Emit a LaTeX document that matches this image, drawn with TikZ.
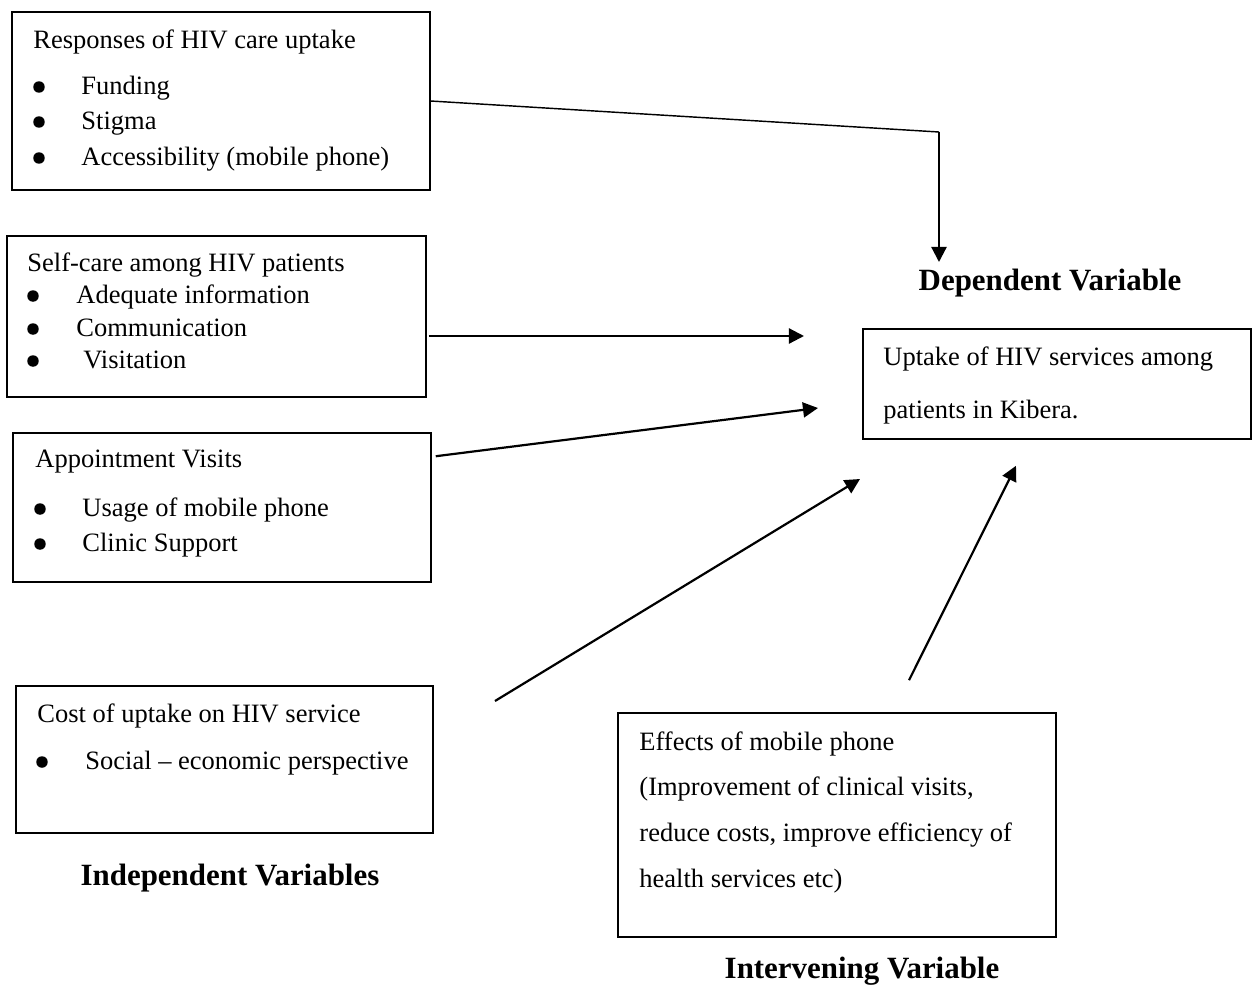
\documentclass[tikz,border=0pt]{standalone}
\usepackage{fontspec}
\setmainfont{Liberation Serif}
\usetikzlibrary{arrows.meta,calc}
\begin{document}
\begin{tikzpicture}[x=0.4528pt, y=-0.4528pt,
    box/.style 2 args={draw, line width=0.7pt, inner sep=0pt,
        minimum width=#1*0.4528pt, minimum height=#2*0.4528pt},
    txt/.style={anchor=base west, inner sep=0pt, font=\fontsize{12}{14}\selectfont},
    bul/.style={circle, fill, inner sep=0pt, minimum size=5.2pt},
    lbl/.style={anchor=base, inner sep=0pt, font=\fontsize{14}{17}\selectfont\bfseries},
    arr/.style={line width=1pt, -{Triangle[length=6.8pt, width=6.8pt]}}]
  \useasboundingbox (0,0) rectangle (1254,986);

  % Boxes
  \node[box={418}{178}] (resp) at (221,101) {};
  \node[box={419}{161}] (self) at (216.5,316.5) {};
  \node[box={418}{149}] (appt) at (222,507.5) {};
  \node[box={417}{147}] (cost) at (224.5,759.5) {};
  \node[box={438}{224}] (effect) at (837,825) {};
  \node[box={388}{110}] (uptake) at (1057,384) {};

  % Independent variables
  \node[txt] (resp-title) at (33,48) {Responses of HIV care uptake};
  \foreach \yb/\item [count=\i] in {94/Funding, 129/Stigma, 165/Accessibility (mobile phone)} {
    \node[bul] (resp-b\i) at (39,\yb-7) {};
    \node[txt] (resp-t\i) at (81,\yb) {\item};
  }

  \node[txt] (self-title) at (27,271) {Self-care among HIV patients};
  \foreach \xb/\yb/\item [count=\i] in {76/303/Adequate information, 76/336/Communication, 83/368/Visitation} {
    \node[bul] (self-b\i) at (33,\yb-7) {};
    \node[txt] (self-t\i) at (\xb,\yb) {\item};
  }

  \node[txt] (appt-title) at (35,467) {Appointment Visits};
  \foreach \yb/\item [count=\i] in {516/Usage of mobile phone, 551/Clinic Support} {
    \node[bul] (appt-b\i) at (40,\yb-7) {};
    \node[txt] (appt-t\i) at (82,\yb) {\item};
  }

  \node[txt] (cost-title) at (37,722) {Cost of uptake on HIV service};
  \node[bul] (cost-b1) at (42,762) {};
  \node[txt] (cost-t1) at (85,769) {Social -- economic perspective};

  % Intervening variable
  \foreach \yb/\item [count=\i] in {750/Effects of mobile phone, 795/{(Improvement of clinical visits,}, 841/{reduce costs, improve efficiency of}, 887/health services etc)} {
    \node[txt] (effect-t\i) at (639,\yb) {\item};
  }

  % Dependent variable
  \node[txt] (uptake-t1) at (883,365) {Uptake of HIV services among};
  \node[txt] (uptake-t2) at (883,418) {patients in Kibera.};

  % Headings
  \node[lbl] (deplbl) at (1050,290) {Dependent Variable};
  \node[lbl] (indlbl) at (230,885) {Independent Variables};
  \node[lbl] (intlbl) at (862,978) {Intervening Variable};

  % Arrows
  \coordinate (bend) at (939,132);
  \coordinate (deptip) at (939,262);
  \coordinate (tip1) at (804,336);
  \coordinate (tip2) at (818,408);
  \coordinate (from3) at (495,701);
  \coordinate (tip3) at (860,479);
  \draw[line width=0.65pt] (resp.east) -- (bend);
  \draw[arr] (bend) -- (deptip);
  \draw[arr] (self.east |- tip1) ++(2,0) -- (tip1);
  \draw[arr] ($(appt.north east)+(4,24)$) -- (tip2);
  \draw[arr] (from3) -- (tip3);
  \draw[arr] ($(effect.north)+(72,-32)$) -- ($(uptake.south)+(-41,26)$);
\end{tikzpicture}
\end{document}
